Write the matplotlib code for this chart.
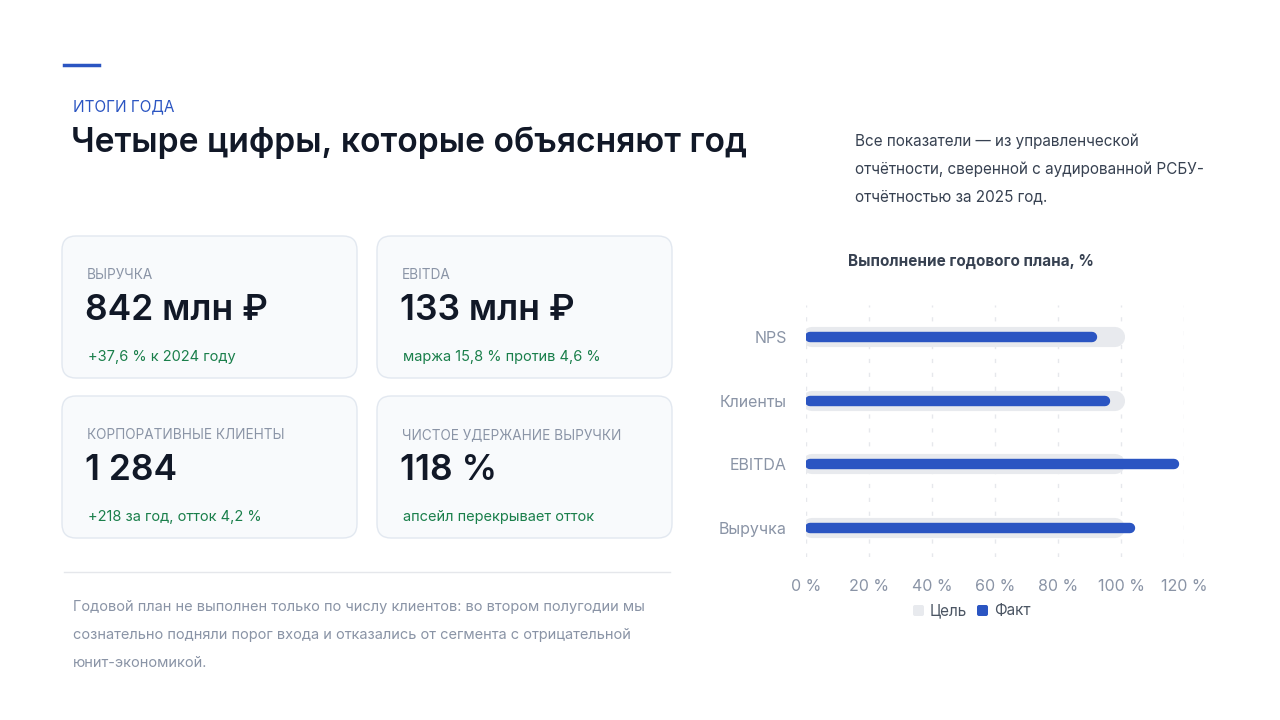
import matplotlib
matplotlib.use("Agg")
import matplotlib.pyplot as plt
from matplotlib.patches import FancyBboxPatch

plt.rcParams['font.family'] = ['Inter', 'DejaVu Sans']

categories = ["Выручка", "EBITDA", "Клиенты", "NPS"]
target = [100, 100, 100, 100]
fact = [104, 118, 96, 92]
ticks = [0, 20, 40, 60, 80, 100, 120]

cards = [
    ("ВЫРУЧКА", "842 млн ₽", "+37,6 % к 2024 году"),
    ("EBITDA", "133 млн ₽", "маржа 15,8 % против 4,6 %"),
    ("КОРПОРАТИВНЫЕ КЛИЕНТЫ", "1 284", "+218 за год, отток 4,2 %"),
    ("ЧИСТОЕ УДЕРЖАНИЕ ВЫРУЧКИ", "118 %", "апсейл перекрывает отток"),
]

W, H = 1280, 720
fig = plt.figure(figsize=(12.8, 7.2), dpi=100)
fig.patch.set_facecolor("white")
bg = fig.add_axes([0, 0, 1, 1])
bg.set_xlim(0, W); bg.set_ylim(H, 0); bg.axis("off")

bg.plot([64, 99], [65, 65], color="#2b55c2", lw=2.5)
bg.text(73, 107, "ИТОГИ ГОДА", color="#2b55c2", fontsize=11, va="center")
bg.text(71, 143, "Четыре цифры, которые объясняют год", color="#111827",
        fontsize=24.2, fontweight="semibold", va="center")
for i, line in enumerate(["Все показатели — из управленческой",
                          "отчётности, сверенной с аудированной РСБУ-",
                          "отчётностью за 2025 год."]):
    bg.text(855, 141 + i * 28, line, color="#374151", fontsize=11, va="center")

pos = [(62, 236), (377, 236), (62, 396), (377, 396)]
for (x, y), (lab, val, sub) in zip(pos, cards):
    bg.add_patch(FancyBboxPatch((x, y), 295, 142, boxstyle="round,pad=0,rounding_size=14",
                                fc="#f8fafc", ec="#e2e8f0", lw=1))
    bg.text(x + 25, y + 39, lab, color="#8a94a6", fontsize=9.8, va="center")
    bg.text(x + 23, y + 74, val, color="#111827", fontsize=25.5, fontweight="semibold", va="center")
    bg.text(x + 26, y + 121, sub, color="#1a7f4b", fontsize=10.5, va="center")

bg.plot([64, 670], [572, 572], color="#e5e7eb", lw=1)
for i, line in enumerate(["Годовой план не выполнен только по числу клиентов: во втором полугодии мы",
                          "сознательно подняли порог входа и отказались от сегмента с отрицательной",
                          "юнит-экономикой."]):
    bg.text(73, 607 + i * 28, line, color="#8a94a6", fontsize=10.5, va="center")

bg.text(971, 261, "Выполнение годового плана, %", color="#374151", fontsize=11,
        fontweight="bold", ha="center", va="center")

ax = fig.add_axes([806 / W, 1 - 557 / H, (1184 - 806) / W, 252 / H])
ax.set_facecolor("none")
ax.set_xlim(0, 120)
ax.set_ylim(-0.455, 3.5)
yy = range(len(categories))
for y, t, f in zip(yy, target, fact):
    ax.plot([2, t - 2], [y, y], color="#e8eaee", lw=14.5, solid_capstyle="round", zorder=2)
    ax.plot([1.2, f - 1.2], [y, y], color="#2b55c2", lw=7.5, solid_capstyle="round", zorder=3)
ax.set_xticks(ticks)
ax.set_xticklabels([f"{t} %" for t in ticks])
ax.set_yticks(list(yy))
ax.set_yticklabels(categories)
ax.tick_params(length=0, labelsize=11.5, colors="#8a94a6", pad=14)
ax.tick_params(axis="x", pad=16)
ax.grid(axis="x", color="#e6e8ec", ls=(0, (3, 7)), lw=1)
ax.set_axisbelow(True)
for s in ax.spines.values():
    s.set_visible(False)

bg.add_patch(FancyBboxPatch((913, 605), 11, 11, boxstyle="round,pad=0,rounding_size=2", fc="#e8eaee", ec="none"))
bg.text(930, 611, "Цель", color="#4b5563", fontsize=11, va="center")
bg.add_patch(FancyBboxPatch((977, 605), 11, 11, boxstyle="round,pad=0,rounding_size=2", fc="#2b55c2", ec="none"))
bg.text(994, 611, "Факт", color="#4b5563", fontsize=11, va="center")

fig.savefig("out.png", dpi=100, facecolor="white")
